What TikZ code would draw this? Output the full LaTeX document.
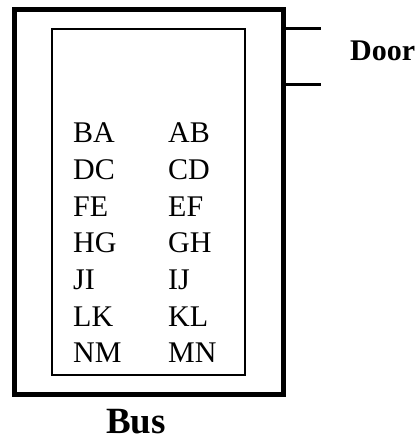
\documentclass[tikz,border=0pt]{standalone}
\usepackage{fontspec}
\setmainfont{Liberation Serif}
\usetikzlibrary{positioning}

\begin{document}
\begin{tikzpicture}[x=1pt, y=-1pt,
        outer/.style={draw, line width=5pt, minimum width=269pt, minimum height=384pt},
        inner/.style={draw, line width=1.5pt, minimum width=193pt, minimum height=346pt},
        door/.style={line width=3pt},
        seat/.style={anchor=base west, inner sep=0pt, font=\fontsize{30}{36}\selectfont},
        tag/.style={inner sep=0pt, font=\bfseries\fontsize{30}{36}\selectfont}
    ]
        \useasboundingbox (0,0) rectangle (419,438);
        \node [outer] (bus) at (148.5,202) {};
        \node [inner] (seats) at (148.5,202) {};

        \coordinate (d1) at (321,29);
        \coordinate (d2) at (321,85);
        \draw [door] (bus.east |- d1) -- (d1);
        \draw [door] (bus.east |- d2) -- (d2);
        \node [tag, anchor=base west] (doorlbl) at (350,61) {Door};
        \node [tag, anchor=base, font=\bfseries\fontsize{37}{44}\selectfont] (buslbl) at (136,433) {Bus};

        \foreach \l/\r [count=\i] in {BA/AB, DC/CD, FE/EF, HG/GH, JI/IJ, LK/KL, NM/MN} {
            \node [seat] (left\i) at (73,106.4+36.6*\i) {\l};
            \node [seat] (right\i) at (168,106.4+36.6*\i) {\r};
        }

    \end{tikzpicture}
\end{document}
